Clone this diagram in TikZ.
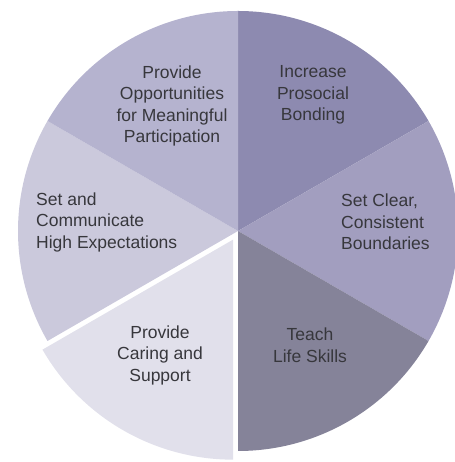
\documentclass[tikz,border=0pt]{standalone}
\usepackage{fontspec}
\setmainfont{Liberation Sans}
\usepackage{xcolor}
\definecolor{Col1}{RGB}{141,138,176}
\definecolor{Col2}{RGB}{162,158,191}
\definecolor{Col3}{RGB}{133,131,153}
\definecolor{Col4}{RGB}{225,224,235}
\definecolor{Col5}{RGB}{203,201,220}
\definecolor{Col6}{RGB}{181,179,207}
\definecolor{ColT}{RGB}{55,55,60}
\usetikzlibrary{positioning}
\tikzstyle{Slice}=[draw=none]
\tikzstyle{Label}=[font=\fontsize{17.5}{21.5}\selectfont,text=ColT,
inner sep=0pt,align=center]
\tikzstyle{LabelL}=[Label,align=left,anchor=west]

\begin{document}
\begin{tikzpicture}[x=1pt,y=1pt]
            \useasboundingbox (0,0) rectangle (454,462);
            \coordinate(c)at(238,231);
            \coordinate(cs)at(233,222.34);
            \fill[Slice,Col1](c)--++(90:220)arc(90:30:220)--cycle;
            \fill[Slice,Col2](c)--++(30:220)arc(30:-30:220)--cycle;
            \fill[Slice,Col3](c)--++(-30:220)arc(-30:-90:220)--cycle;
            \fill[Slice,Col5](c)--++(150:220)arc(150:210:220)--cycle;
            \fill[Slice,Col6](c)--++(90:220)arc(90:150:220)--cycle;
            \fill[Slice,Col4](cs)--++(210:220)arc(210:270:220)--cycle;
            %
            \node[Label](opp)at(172,356)
                {Provide\\Opportunities\\for Meaningful\\Participation};
            \node[Label](bond)at(313,367)
                {Increase\\Prosocial\\Bonding};
            \node[LabelL](bound)at(341,240)
                {Set Clear,\\Consistent\\Boundaries};
            \node[LabelL](expect)at(36,240)
                {Set and\\Communicate\\High Expectations};
            \node[Label](skills)at(310,117)
                {Teach\\Life Skills};
            \node[Label](care)at(160,107)
                {Provide\\Caring and\\Support};
        \end{tikzpicture}
\end{document}
